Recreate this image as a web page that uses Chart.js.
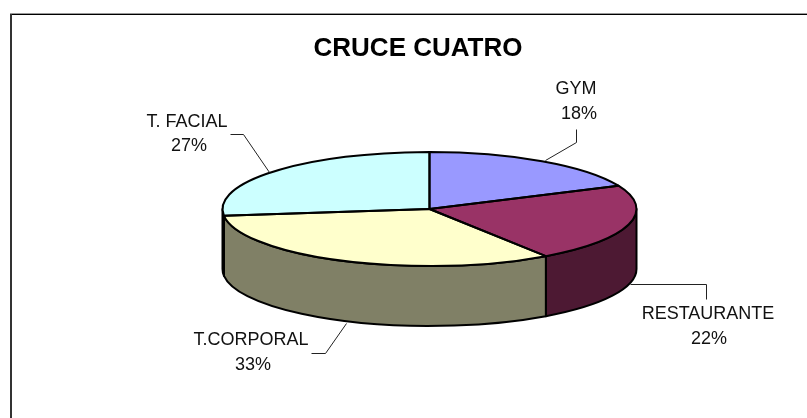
<!DOCTYPE html>
<html>
<head>
<meta charset="utf-8">
<style>
html,body{margin:0;padding:0;background:#fff;overflow:hidden}
#wrap{position:relative;width:807px;height:418px}
canvas{display:block}
</style>
<script src="https://cdn.jsdelivr.net/npm/chart.js@4"></script>
</head>
<body>
<div id="wrap"><canvas id="c" width="807" height="418"></canvas></div>
<script>
const chartTitle = "CRUCE CUATRO";
const categories = ["GYM", "RESTAURANTE", "T.CORPORAL", "T. FACIAL"];
const values = [18.3, 22.2, 32.6, 26.9];
const topColors = ["#9999FF", "#993366", "#FFFFCC", "#CCFFFF"];
const sideColors = ["#4D4D80", "#4D1933", "#808066", "#668080"];

// Projection of the flat pie onto the tilted disc
const disc = { cx: 429.5, cy: 209, rx: 207, ry: 57, depth: 60 };
// Label anchors: [x of name, y of name, x of percent, y of percent]
const labelPos = [
  [576, 89, 579, 114],
  [708, 314, 709, 339],
  [251, 340, 253, 365],
  [187, 122, 189, 146]
];
const leaders = [
  [[576,129],[576,142],[545,160]],
  [[630,284],[706,284],[706,299]],
  [[311,353],[325,353],[346,323]],
  [[230,134],[243,134],[269,172]]
];

const TAU = Math.PI * 2;
function wall(ctx, a, b, fill) {
  const d = disc;
  ctx.beginPath();
  ctx.ellipse(d.cx, d.cy, d.rx, d.ry, 0, a, b, false);
  ctx.ellipse(d.cx, d.cy + d.depth, d.rx, d.ry, 0, b, a, true);
  ctx.closePath();
  ctx.fillStyle = fill;
  ctx.fill();
  ctx.lineWidth = 2;
  ctx.strokeStyle = "#000";
  ctx.lineJoin = "round";
  ctx.stroke();
}

const pie3d = {
  id: "pie3d",
  beforeDatasetsDraw(chart) {
    const ctx = chart.ctx;
    const arcs = chart.getDatasetMeta(0).data;
    // frame: only the top and left edges are inside the picture
    ctx.save();
    ctx.fillStyle = "#999";
    ctx.fillRect(10, 13, 797, 1);
    ctx.fillStyle = "#000";
    ctx.fillRect(10, 14, 797, 1);
    ctx.fillStyle = "#333";
    ctx.fillRect(10, 14, 2, 404);
    ctx.restore();
    // side walls: only the part of each slice facing the viewer
    ctx.save();
    arcs.forEach((arc, i) => {
      [0, TAU, -TAU].forEach(shift => {
        const a = Math.max(arc.startAngle + shift, 0);
        const b = Math.min(arc.endAngle + shift, Math.PI);
        if (b > a) wall(ctx, a, b, sideColors[i]);
      });
    });
    ctx.restore();
    // squash the library's pie onto the disc
    const o = arcs[0];
    ctx.save();
    ctx.translate(disc.cx, disc.cy);
    ctx.scale(disc.rx / o.outerRadius, disc.ry / o.outerRadius);
    ctx.translate(-o.x, -o.y);
  },
  afterDatasetsDraw(chart) {
    const ctx = chart.ctx;
    const arcs = chart.getDatasetMeta(0).data;
    ctx.restore();
    const d = disc;
    // slice outlines
    ctx.save();
    ctx.lineWidth = 2;
    ctx.strokeStyle = "#000";
    ctx.lineJoin = "round";
    arcs.forEach(arc => {
      ctx.beginPath();
      ctx.moveTo(d.cx, d.cy);
      ctx.ellipse(d.cx, d.cy, d.rx, d.ry, 0, arc.startAngle, arc.endAngle, false);
      ctx.closePath();
      ctx.stroke();
    });
    ctx.restore();
    // leaders
    ctx.save();
    ctx.lineWidth = 1;
    ctx.strokeStyle = "#222";
    leaders.forEach(l => {
      ctx.beginPath();
      l.forEach((p, k) => k ? ctx.lineTo(p[0] + .5, p[1] + .5) : ctx.moveTo(p[0] + .5, p[1] + .5));
      ctx.stroke();
    });
    ctx.restore();
    // texts
    ctx.save();
    ctx.fillStyle = "#000";
    ctx.textAlign = "center";
    ctx.textBaseline = "middle";
    ctx.font = "bold 26px 'Liberation Sans', Arial, sans-serif";
    ctx.fillText(chartTitle, 418, 49);
    ctx.fillStyle = "#111";
    ctx.font = "18px 'Liberation Sans', Arial, sans-serif";
    const total = values.reduce((s, v) => s + v, 0);
    categories.forEach((name, i) => {
      const p = labelPos[i];
      ctx.fillText(name, p[0], p[1]);
      ctx.fillText(Math.round(values[i] / total * 100) + "%", p[2], p[3]);
    });
    ctx.restore();
  }
};

new Chart(document.getElementById("c"), {
  type: "pie",
  data: {
    labels: categories,
    datasets: [{
      data: values,
      backgroundColor: topColors,
      borderWidth: 0,
      hoverOffset: 0
    }]
  },
  options: {
    responsive: false,
    animation: false,
    events: [],
    layout: { padding: 0 },
    plugins: { legend: { display: false }, tooltip: { enabled: false }, title: { display: false } }
  },
  plugins: [pie3d]
});
</script>
</body>
</html>
